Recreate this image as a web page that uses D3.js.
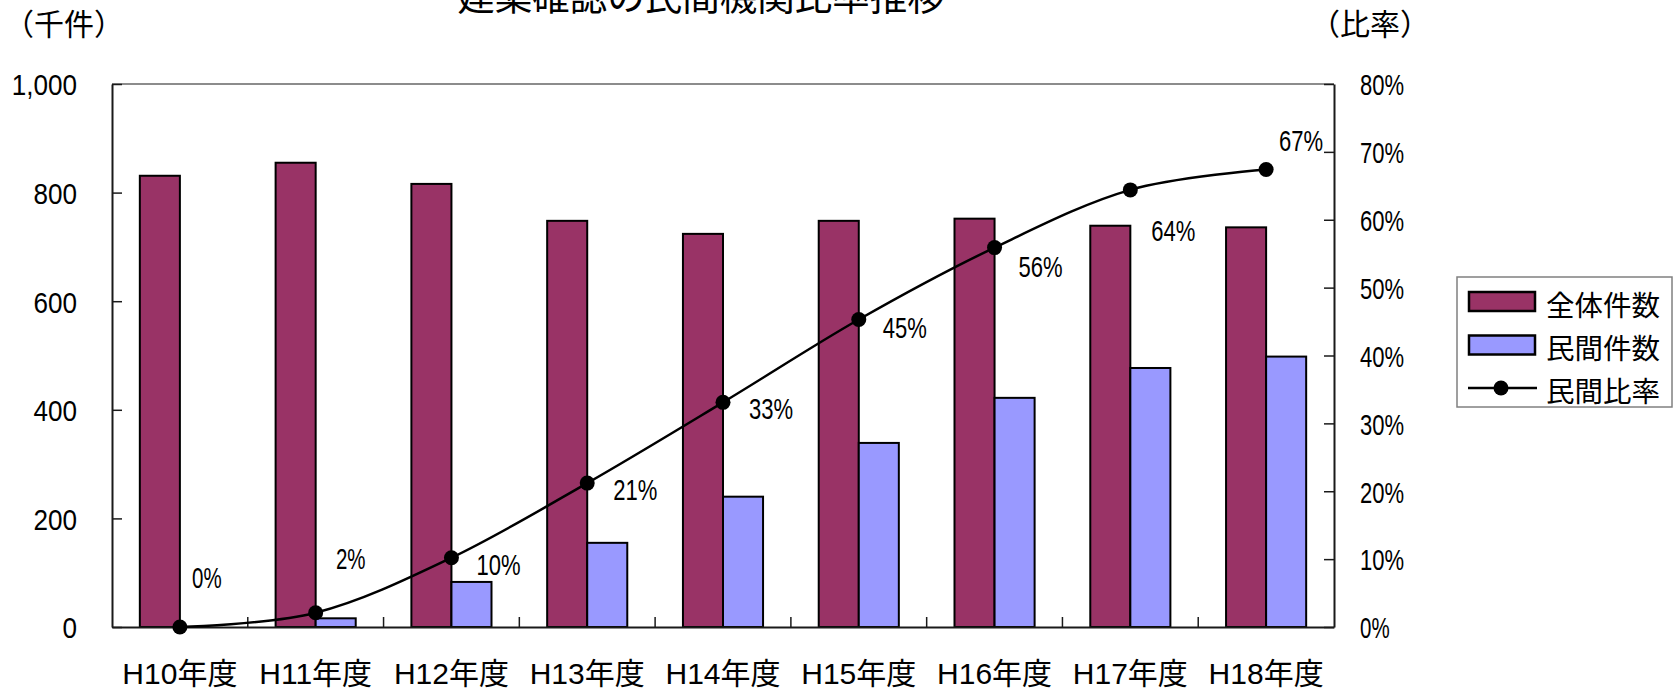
<!DOCTYPE html>
<html>
<head>
<meta charset="utf-8">
<script src="https://cdn.jsdelivr.net/npm/d3@7"></script>
<style>
  html, body { margin: 0; padding: 0; background: #fff; }
  svg { display: block; }
  text { font-family: "Liberation Sans", Arial, "Noto Sans CJK JP", sans-serif; fill: #000; }
</style>
</head>
<body>
<svg id="chart" width="1677" height="690"></svg>
<script>
// ---- data ----
const chartTitle = '建築確認の民間機関比率推移';
const leftUnit = '（千件）';
const rightUnit = '（比率）';
const categories = ['H10年度', 'H11年度', 'H12年度', 'H13年度', 'H14年度', 'H15年度', 'H16年度', 'H17年度', 'H18年度'];
const seriesNames = ['全体件数', '民間件数', '民間比率'];
const totalCounts = [831, 855, 816, 748, 724, 748, 752, 739, 736];
const privateCounts = [0, 16, 83, 155, 240, 339, 422, 477, 498];
const privateRatio = [0, 2.1, 10.2, 21.2, 33.1, 45.3, 55.9, 64.4, 67.4];
const leftTicks = [0, 200, 400, 600, 800, 1000];
const rightTicks = [0, 10, 20, 30, 40, 50, 60, 70, 80];

// ---- layout (not data) ----
const P = { left: 112, right: 1334, top: 84, bottom: 627 };
const colors = { total: '#993366', priv: '#9999FF' };
// manual data-label nudges (dx, dy from point), as placed in the original
const labelNudge = [[27, -50], [35, -55], [47, 6], [48, 6], [48, 6], [46, 8], [46, 19], [43, 40], [35, -29]];

const svg = d3.select('#chart');

const x = d3.scaleBand().domain(categories).range([P.left, P.right]).paddingInner(0).paddingOuter(0);
const yL = d3.scaleLinear().domain([0, 1000]).range([P.bottom, P.top]);
const yR = d3.scaleLinear().domain([0, 80]).range([P.bottom, P.top]);
const barW = x.bandwidth() * 0.295;
const cx = c => x(c) + x.bandwidth() / 2;

// narrow-number fitting (original font has narrow digits / percent)
function fitNum(sel, f) {
  sel.each(function () {
    const t = this.textContent;
    let w = 0;
    for (const ch of t) {
      if (/[0-9]/.test(ch)) w += 0.5;
      else if (ch === ',') w += 0.25;
      else if (ch === '%') w += 0.52;
      else w += 0.56;
    }
    d3.select(this).attr('textLength', w * f).attr('lengthAdjust', 'spacingAndGlyphs');
  });
}

// plot frame: top grey border
svg.append('line')
  .attr('x1', P.left).attr('x2', P.right).attr('y1', P.top).attr('y2', P.top)
  .attr('stroke', '#8c8c8c').attr('stroke-width', 2);

// bars
const g = svg.append('g');
g.selectAll('rect.total').data(totalCounts).join('rect')
  .attr('class', 'total')
  .attr('x', (d, i) => cx(categories[i]) - barW)
  .attr('y', d => yL(d))
  .attr('width', barW)
  .attr('height', d => yL(0) - yL(d))
  .attr('fill', colors.total).attr('stroke', '#000').attr('stroke-width', 2);

g.selectAll('rect.priv').data(privateCounts).join('rect')
  .attr('class', 'priv')
  .attr('x', (d, i) => cx(categories[i]))
  .attr('y', d => yL(d))
  .attr('width', barW)
  .attr('height', d => yL(0) - yL(d))
  .attr('fill', colors.priv).attr('stroke', '#000').attr('stroke-width', d => d > 0 ? 2 : 0);

// axes
const numFont = 30, numW = 29;
const axL = svg.append('g').attr('transform', `translate(${P.left},0)`)
  .call(d3.axisLeft(yL).tickValues(leftTicks).tickFormat(d3.format(',')).tickSize(-10).tickSizeOuter(0).tickPadding(35));
const axR = svg.append('g').attr('transform', `translate(${P.right},0)`)
  .call(d3.axisRight(yR).tickValues(rightTicks).tickFormat(d => d + '%').tickSize(-10).tickSizeOuter(0).tickPadding(26));
const axB = svg.append('g').attr('transform', `translate(0,${P.bottom})`)
  .call(d3.axisBottom(x).tickSize(0).tickSizeOuter(0).tickPadding(0));

[axL, axR, axB].forEach(a => {
  a.attr('font-family', null).attr('font-size', null);
  a.select('.domain').attr('stroke', '#1a1a1a').attr('stroke-width', 2);
  a.selectAll('.tick line').attr('stroke', '#1a1a1a').attr('stroke-width', 1.5);
});
axL.selectAll('.tick text').attr('font-size', numFont).attr('dy', '0.36em');
axR.selectAll('.tick text').attr('font-size', numFont).attr('dy', '0.36em');
fitNum(axL.selectAll('.tick text'), numW);
fitNum(axR.selectAll('.tick text'), numW);
axB.selectAll('.tick text').attr('font-size', 30).attr('y', 56.5).attr('dy', 0);

// category boundary ticks (inward)
const bounds = categories.slice(1).map(c => x(c));
axB.selectAll('line.bound').data(bounds).join('line')
  .attr('class', 'bound')
  .attr('x1', d => d).attr('x2', d => d).attr('y1', 0).attr('y2', -10)
  .attr('stroke', '#1a1a1a').attr('stroke-width', 1.5);

// ratio line
const linePts = privateRatio.map((v, i) => [cx(categories[i]), yR(v)]);
svg.append('path')
  .attr('d', d3.line().curve(d3.curveCardinal.tension(0))(linePts))
  .attr('fill', 'none').attr('stroke', '#000').attr('stroke-width', 2.5);
svg.selectAll('circle.pt').data(linePts).join('circle')
  .attr('class', 'pt')
  .attr('cx', d => d[0]).attr('cy', d => d[1]).attr('r', 7.5).attr('fill', '#000');

// data labels
const lab = svg.selectAll('text.lab').data(privateRatio).join('text')
  .attr('class', 'lab')
  .attr('x', (d, i) => linePts[i][0] + labelNudge[i][0])
  .attr('y', (d, i) => linePts[i][1] + labelNudge[i][1])
  .attr('dy', '0.36em')
  .attr('text-anchor', 'middle')
  .attr('font-size', numFont)
  .text(d => Math.round(d) + '%');
fitNum(lab, numW);

// title and unit labels
svg.append('text').attr('x', 701).attr('y', 10).attr('text-anchor', 'middle')
  .attr('font-size', 37.5).text(chartTitle);
svg.append('text').attr('x', 4).attr('y', 35).attr('font-size', 30).text(leftUnit);
svg.append('text').attr('x', 1310).attr('y', 35).attr('font-size', 30).text(rightUnit);

// legend
const lg = svg.append('g');
lg.append('rect').attr('x', 1457).attr('y', 277).attr('width', 215).attr('height', 130)
  .attr('fill', '#fff').attr('stroke', '#808080').attr('stroke-width', 1.5);
const rowY = [301.5, 345, 388];
lg.append('rect').attr('x', 1469).attr('y', rowY[0] - 9.5).attr('width', 66).attr('height', 19)
  .attr('fill', colors.total).attr('stroke', '#000').attr('stroke-width', 2.5);
lg.append('rect').attr('x', 1469).attr('y', rowY[1] - 9.5).attr('width', 66).attr('height', 19)
  .attr('fill', colors.priv).attr('stroke', '#000').attr('stroke-width', 2.5);
lg.append('line').attr('x1', 1468).attr('x2', 1537).attr('y1', rowY[2]).attr('y2', rowY[2])
  .attr('stroke', '#000').attr('stroke-width', 2.5);
lg.append('circle').attr('cx', 1501).attr('cy', rowY[2]).attr('r', 7.5).attr('fill', '#000');
lg.selectAll('text.lgt').data(seriesNames).join('text')
  .attr('class', 'lgt')
  .attr('x', 1546).attr('y', (d, i) => rowY[i] + 4)
  .attr('dy', '0.36em')
  .attr('font-size', 28.5)
  .text(d => d);
</script>
</body>
</html>
